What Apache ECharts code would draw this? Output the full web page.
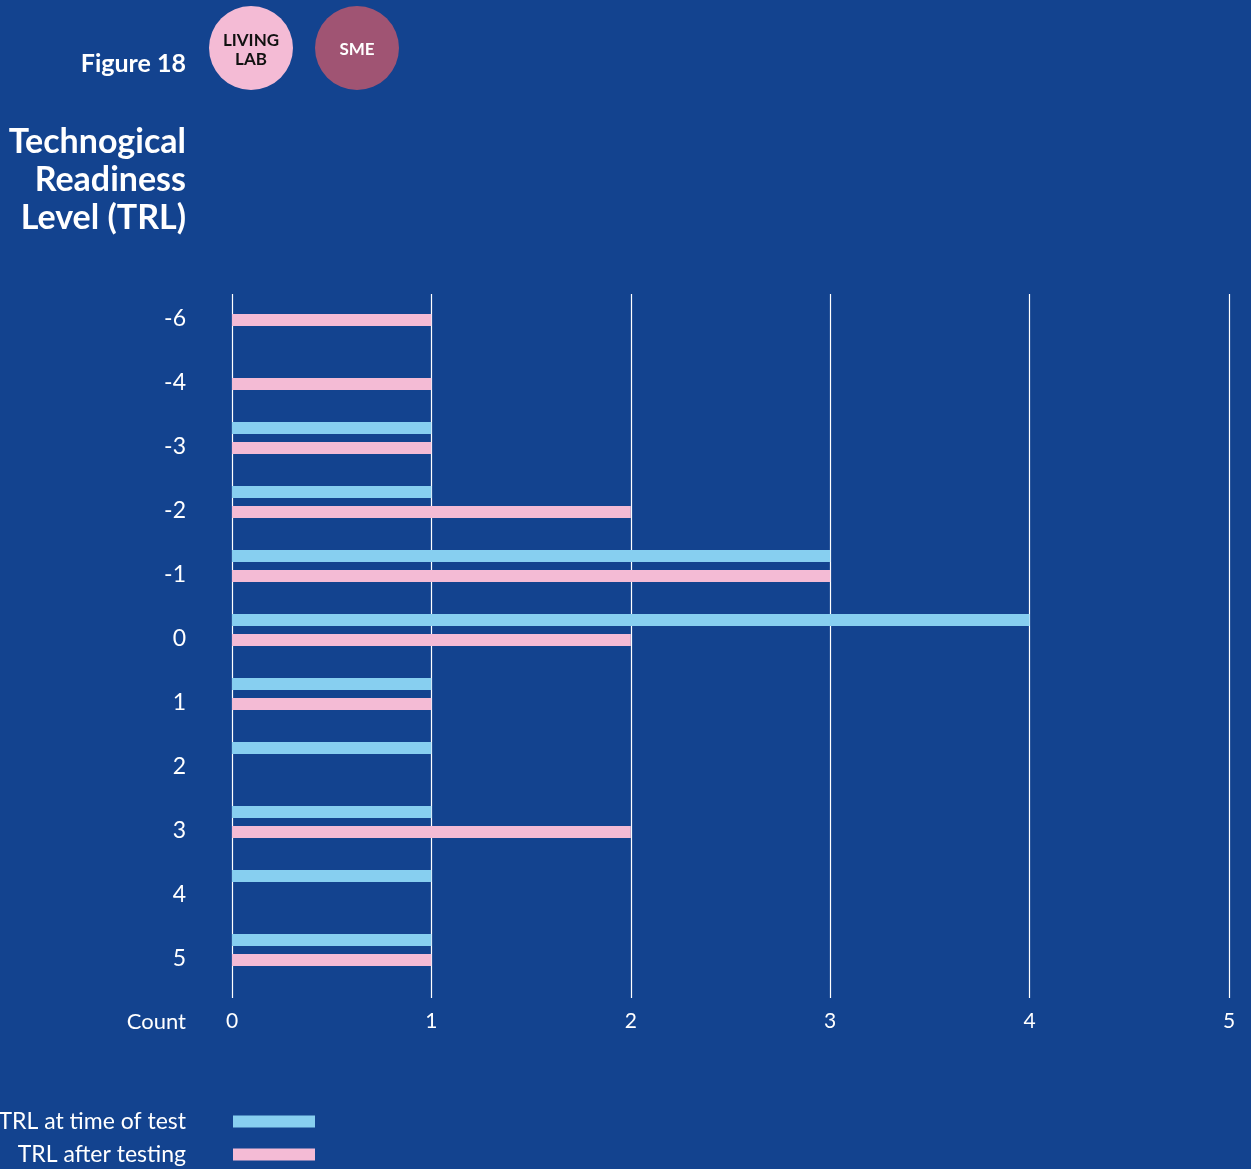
<!DOCTYPE html>
<html>
<head>
<meta charset="utf-8">
<script src="https://cdn.jsdelivr.net/npm/echarts@6/dist/echarts.min.js"></script>
<style>
  html, body { margin: 0; padding: 0; background: #13438f; }
  #chart { width: 1251px; height: 1169px; }
</style>
</head>
<body>
<div id="chart"></div>
<script>
// TRL change categories (top to bottom)
var categories = ['-6', '-4', '-3', '-2', '-1', '0', '1', '2', '3', '4', '5'];
// number of tests per TRL
var trlAtTest = [null, null, 1, 1, 3, 4, 1, 1, 1, 1, 1];
var trlAfterTest = [1, 1, 1, 2, 3, 2, 1, null, 2, null, 1];
var countTicks = [0, 1, 2, 3, 4, 5];

var font = 'Lato';
var blue = '#87cff0';
var pink = '#f4bbd5';

var chart = echarts.init(document.getElementById('chart'));

var option = {
    backgroundColor: '#13438f',
    animation: false,
    title: [
        {
            text: 'Figure 18',
            left: 181,
            top: 46,
            textAlign: 'right',
            textStyle: { color: '#fff', fontFamily: font, fontWeight: 'bold', fontSize: 25 }
        },
        {
            text: 'Technogical\nReadiness\nLevel (TRL)',
            left: 181,
            top: 118,
            textAlign: 'right',
            textStyle: { color: '#fff', fontFamily: font, fontWeight: 'bold', fontSize: 34, lineHeight: 38 }
        }
    ],
    graphic: [
        {
            type: 'group',
            children: [
                { type: 'circle', shape: { cx: 251, cy: 48, r: 42 }, style: { fill: '#f4bbd5' } },
                {
                    type: 'text', x: 251, y: 50,
                    style: { text: 'LIVING\nLAB', fill: '#111', font: 'bold 17px Lato', align: 'center', verticalAlign: 'middle', lineHeight: 19 }
                },
                { type: 'circle', shape: { cx: 357, cy: 48, r: 42 }, style: { fill: '#a05473' } },
                {
                    type: 'text', x: 357, y: 50,
                    style: { text: 'SME', fill: '#fff', font: 'bold 17px Lato', align: 'center', verticalAlign: 'middle' }
                }
            ]
        }
    ],
    legend: {
        orient: 'vertical',
        align: 'right',
        right: 936,
        top: 1110,
        padding: 0,
        itemWidth: 82,
        itemHeight: 12,
        itemGap: 10,
        icon: 'rect',
        data: ['TRL at time of test', 'TRL after testing'],
        textStyle: { color: '#fff', fontFamily: font, fontSize: 23, lineHeight: 22, padding: [0, 42, 0, 0] }
    },
    grid: {
        left: 232,
        right: 22,
        top: 294,
        height: 704
    },
    xAxis: {
        type: 'value',
        min: 0,
        max: 5,
        interval: 1,
        name: 'Count',
        nameLocation: 'start',
        nameGap: 46,
        nameTextStyle: { color: '#fff', fontFamily: font, fontSize: 22, verticalAlign: 'top', padding: [13, 0, 0, 0] },
        axisLine: { show: false },
        axisTick: { show: false },
        axisLabel: {
            color: '#fff', fontFamily: font, fontSize: 21, margin: 13,
            formatter: function (v) { return countTicks.indexOf(v) >= 0 ? String(v) : ''; }
        },
        splitLine: { lineStyle: { color: '#ffffff', width: 1.2 } }
    },
    yAxis: {
        type: 'category',
        inverse: true,
        data: categories,
        axisLine: { show: false },
        axisTick: { show: false },
        axisLabel: { color: '#fff', fontFamily: font, fontSize: 23, margin: 46, verticalAlign: 'bottom', lineHeight: 14 }
    },
    series: [
        {
            name: 'TRL at time of test',
            type: 'bar',
            data: trlAtTest,
            barWidth: 12,
            barGap: '66.67%',
            itemStyle: { color: blue }
        },
        {
            name: 'TRL after testing',
            type: 'bar',
            data: trlAfterTest,
            barWidth: 12,
            barGap: '66.67%',
            itemStyle: { color: pink }
        },
        {
            // empty spacer so the bar pair sits in the upper part of each band
            name: 'spacer',
            type: 'bar',
            data: [],
            barWidth: 24,
            barGap: '66.67%',
            silent: true
        }
    ]
};

chart.setOption(option);
</script>
</body>
</html>
